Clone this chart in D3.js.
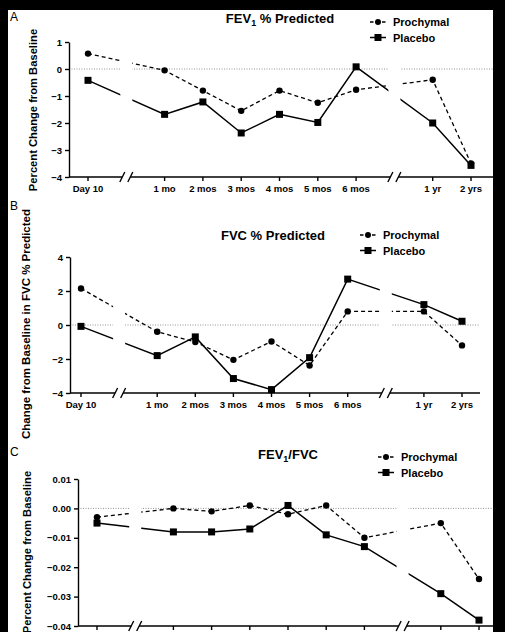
<!DOCTYPE html>
<html><head><meta charset="utf-8">
<script src="https://cdn.jsdelivr.net/npm/d3@7"></script>
<style>
body{margin:0;background:#000;}
svg{display:block;font-family:"Liberation Sans",Arial,Helvetica,sans-serif;}
</style></head><body>
<svg id="chart" width="505" height="632"></svg>
<script>
// time points (x categories) and series
let categories = ["Day 10","1 mo","2 mos","3 mos","4 mos","5 mos","6 mos","1 yr","2 yrs"];
let seriesNames = ["Prochymal","Placebo"];

// A: FEV1 % predicted
let fev1Prochymal = [0.57,-0.05,-0.8,-1.55,-0.8,-1.25,-0.77,-0.4,-3.5];
let fev1Placebo = [-0.42,-1.68,-1.22,-2.37,-1.68,-1.98,0.08,-2.0,-3.57];
let fev1Ticks = [1,0,-1,-2,-3,-4];

// B: FVC % predicted
let fvcProchymal = [2.15,-0.4,-1.0,-2.05,-0.97,-2.38,0.8,0.8,-1.2];
let fvcPlacebo = [-0.08,-1.8,-0.7,-3.15,-3.8,-1.92,2.7,1.2,0.22];
let fvcTicks = [4,2,0,-2,-4];

// C: FEV1/FVC
let ratioProchymal = [-0.003,0.0,-0.001,0.001,-0.002,0.001,-0.010,-0.005,-0.024];
let ratioPlacebo = [-0.005,-0.008,-0.008,-0.007,0.001,-0.009,-0.013,-0.029,-0.038];
let ratioTicks = [0.01,0.00,-0.01,-0.02,-0.03,-0.04];

let svg = d3.select("#chart");
svg.append("rect").attr("x",8).attr("y",10).attr("width",485).attr("height",622).attr("fill","#fff");

// axis breaks sit in their own slots of a point scale
let breakKeys = ["_b1","_b2"];
let xDomain = [categories[0], breakKeys[0]].concat(categories.slice(1,7), [breakKeys[1]], categories.slice(7));

function drawPanel(p, idx)
{
    let g = svg.append("g");
    let x = d3.scalePoint().domain(xDomain).range([p.xFirst, p.xLast]);
    let y = d3.scaleLinear().domain([d3.min(p.ticks), d3.max(p.ticks)]).range([p.yBottom, p.yTop]);
    let gapHalf = 6;
    let b1 = x(breakKeys[0]), b2 = x(breakKeys[1]);
    let pieces = [[p.axisX, b1-gapHalf],[b1+gapHalf, b2-gapHalf],[b2+gapHalf, p.xEnd]];

    // clip so lines break at the axis breaks
    let clipId = "clip"+idx;
    let clip = svg.append("clipPath").attr("id", clipId);
    pieces.forEach(function(s){
        clip.append("rect").attr("x", s[0]).attr("y", p.yTop-20)
            .attr("width", s[1]-s[0]).attr("height", p.yBottom-p.yTop+30);
    });

    // dotted zero line
    g.append("line").attr("clip-path","url(#"+clipId+")")
        .attr("x1", p.axisX).attr("x2", p.xEnd).attr("y1", y(0)).attr("y2", y(0))
        .attr("stroke","#777").attr("stroke-width",0.8).attr("stroke-dasharray","1,1.5");

    // y axis
    let yAxis = d3.axisLeft(y).tickValues(p.ticks).tickSize(4).tickSizeOuter(0).tickFormat(p.fmt);
    let gy = g.append("g").attr("transform","translate("+p.axisX+",0)").call(yAxis);
    gy.select(".domain").attr("stroke","#000").attr("stroke-width",1.4);
    gy.selectAll(".tick line").attr("stroke","#000").attr("stroke-width",1.4);
    gy.selectAll(".tick text").attr("font-size",9.5).attr("font-weight","bold").attr("fill","#000")
        .attr("font-family","Liberation Sans, Arial, sans-serif");

    // x axis line in pieces, with // marks
    let axisPieces = [[p.axisX, b1-4],[b1+4, b2-4],[b2+4, p.xEnd]];
    g.selectAll(".xdom").data(axisPieces).enter().append("line")
        .attr("x1", d => d[0]).attr("x2", d => d[1])
        .attr("y1", p.yBottom).attr("y2", p.yBottom)
        .attr("stroke","#000").attr("stroke-width",1.4);
    [b1, b2].forEach(function(b){
        [-4, 4].forEach(function(o){
            g.append("line").attr("x1", b+o-2.5).attr("x2", b+o+2.5)
                .attr("y1", p.yBottom+5).attr("y2", p.yBottom-5)
                .attr("stroke","#000").attr("stroke-width",1.4);
        });
    });
    g.selectAll(".xtick").data(categories).enter().append("line")
        .attr("x1", d => x(d)).attr("x2", d => x(d))
        .attr("y1", p.yBottom).attr("y2", p.yBottom+4)
        .attr("stroke","#000").attr("stroke-width",1.4);
    // panel C's tick labels fall below the cropped picture
    if(p.xLabels)
    {
        g.selectAll(".xlab").data(categories).enter().append("text")
            .attr("x", d => x(d)).attr("y", p.yBottom+15)
            .attr("text-anchor","middle").attr("font-size",9.5).attr("font-weight","bold")
            .text(d => d);
    }

    // series
    let series = [
        {name: seriesNames[0], values: p.prochymal, dash: "4,3"},
        {name: seriesNames[1], values: p.placebo, dash: null}
    ];
    let line = d3.line().x((d,i) => x(categories[i])).y(d => y(d));
    series.forEach(function(s){
        g.append("path").datum(s.values)
            .attr("clip-path","url(#"+clipId+")")
            .attr("d", line).attr("fill","none").attr("stroke","#000")
            .attr("stroke-width", s.dash ? 1.3 : 1.5)
            .attr("stroke-dasharray", s.dash);
    });
    g.selectAll(".cir").data(p.prochymal).enter().append("circle")
        .attr("cx", (d,i) => x(categories[i])).attr("cy", d => y(d)).attr("r",3.2).attr("fill","#000");
    g.selectAll(".sq").data(p.placebo).enter().append("rect")
        .attr("x", (d,i) => x(categories[i])-3.5).attr("y", d => y(d)-3.5)
        .attr("width",7).attr("height",7).attr("fill","#000");

    // title
    let t = g.append("text").attr("x", p.titleX).attr("y", p.titleY)
        .attr("text-anchor","middle").attr("font-size",13).attr("font-weight","bold");
    p.title.forEach(function(part){
        let ts = t.append("tspan").text(part.text);
        if(part.sub) ts.attr("font-size",9).attr("dy",3);
        if(part.after) ts.attr("dy",-3);
    });

    // legend
    let lg = g.append("g").attr("transform","translate("+p.legX+","+p.legY+")");
    series.forEach(function(s,i){
        let row = lg.append("g").attr("transform","translate(0,"+(i*15.5)+")");
        row.append("line").attr("x1",0).attr("x2",16).attr("y1",0).attr("y2",0)
            .attr("stroke","#000").attr("stroke-width",1.5).attr("stroke-dasharray", s.dash ? "3.5,2.5" : null);
        if(i==0) row.append("circle").attr("cx",8).attr("cy",0).attr("r",3).attr("fill","#000");
        else row.append("rect").attr("x",4.5).attr("y",-3.5).attr("width",7).attr("height",7).attr("fill","#000");
        row.append("text").attr("x",23).attr("y",4).attr("font-size",11).attr("font-weight","bold").text(s.name);
    });

    // y label
    g.append("text").attr("transform","translate("+p.ylabX+","+p.ylabY+") rotate(-90)")
        .attr("text-anchor","middle").attr("font-size",p.ylabSize).attr("font-weight","bold").text(p.ylabel);

    // panel letter
    g.append("text").attr("x",10).attr("y",p.letterY).attr("font-size",12).text(p.letter);
}

let panels = [
    {letter:"A", letterY:21, prochymal:fev1Prochymal, placebo:fev1Placebo, ticks:fev1Ticks, fmt:d3.format("d"),
     axisX:69, xFirst:88, xLast:471, xEnd:493, yTop:42, yBottom:177, xLabels:true,
     title:[{text:"FEV"},{text:"1",sub:true},{text:" % Predicted",after:true}], titleX:280, titleY:23,
     legX:370, legY:22, ylabX:37, ylabY:110, ylabSize:11.2, ylabel:"Percent Change from Baseline"},
    {letter:"B", letterY:210, prochymal:fvcProchymal, placebo:fvcPlacebo, ticks:fvcTicks, fmt:d3.format("d"),
     axisX:70, xFirst:81, xLast:462, xEnd:480, yTop:257, yBottom:393, xLabels:true,
     title:[{text:"FVC % Predicted"}], titleX:273, titleY:240,
     legX:360, legY:235, ylabX:30, ylabY:324, ylabSize:11.5, ylabel:"Change from Baseline in FVC % Predicted"},
    {letter:"C", letterY:456, prochymal:ratioProchymal, placebo:ratioPlacebo, ticks:ratioTicks, fmt:d3.format(".2f"),
     axisX:78, xFirst:97, xLast:479, xEnd:493, yTop:479, yBottom:626, xLabels:false,
     title:[{text:"FEV"},{text:"1",sub:true},{text:"/FVC",after:true}], titleX:288, titleY:459,
     legX:378, legY:457, ylabX:31, ylabY:552, ylabSize:11.2, ylabel:"Percent Change from Baseline"}
];
panels.forEach(drawPanel);
</script>
</body></html>
